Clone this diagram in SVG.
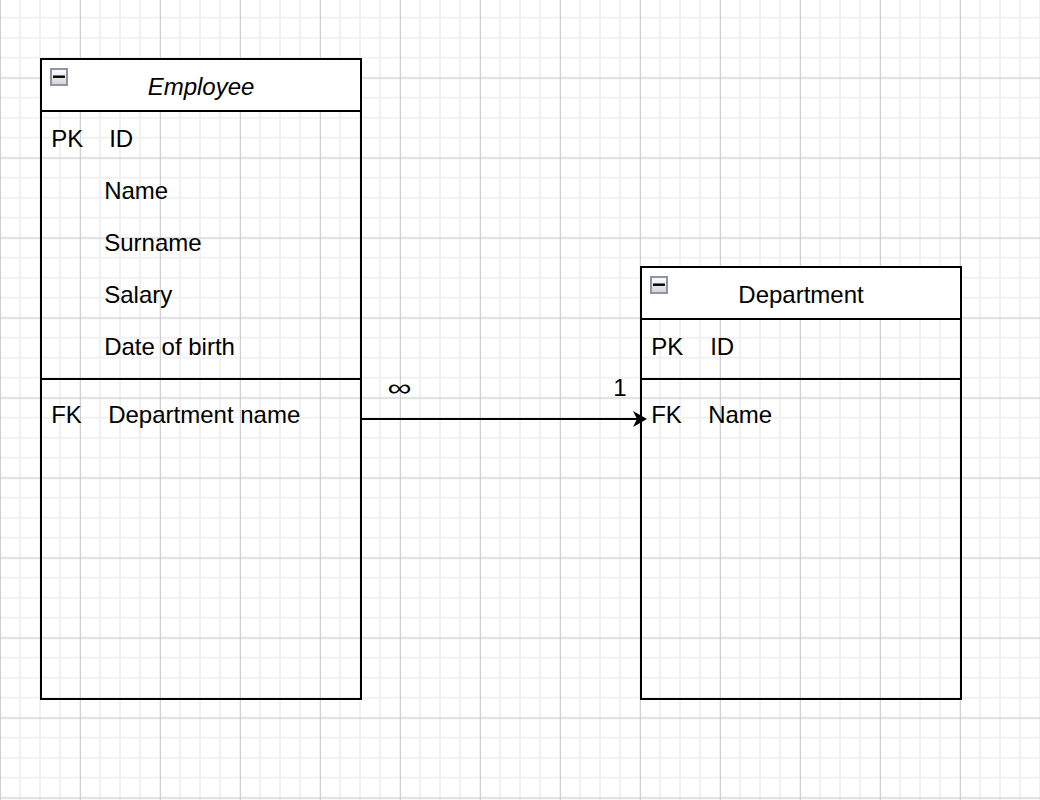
<svg xmlns="http://www.w3.org/2000/svg" width="1040" height="800" viewBox="0 0 1040 800">
  <defs>
    <pattern id="gridMinor" patternUnits="userSpaceOnUse" x="-10" y="-12.3" width="20" height="20">
      <path d="M10 0V20M0 10H20" stroke="#f1f1f1" stroke-width="2" fill="none"/>
    </pattern>
    <pattern id="gridMajor" patternUnits="userSpaceOnUse" x="-40" y="-41.8" width="80" height="80">
      <path d="M40.5 0V80M0 40H80" stroke="#d0d0d0" stroke-width="1" fill="none"/>
    </pattern>
    <linearGradient id="iconGrad" x1="0" y1="0" x2="0" y2="1">
      <stop offset="0" stop-color="#ffffff"/>
      <stop offset="1" stop-color="#d2d3d8"/>
    </linearGradient>
    <marker id="arrow" markerUnits="userSpaceOnUse" viewBox="0 0 14 16" markerWidth="14" markerHeight="16" refX="7" refY="8" orient="auto">
      <path d="M0 0L14 8L0 16L4 8Z" fill="#000"/>
    </marker>
    <g id="collapse">
      <rect x="1" y="1" width="16" height="16" fill="url(#iconGrad)" stroke="#8e95a6" stroke-width="2"/>
      <rect x="3" y="7.5" width="12" height="2.4" fill="#000"/>
    </g>
  </defs>
  <style>
    .box { fill: none; stroke: #000; stroke-width: 2; }
    .head { fill: #fff; stroke: #000; stroke-width: 2; }
    .sep { stroke: #000; stroke-width: 2; fill: none; }
    text { font-family: "Liberation Sans", Helvetica, Arial, sans-serif; font-size: 24px; fill: #000; }
    .title { text-anchor: middle; }
    .edge { stroke: #000; stroke-width: 2; fill: none; }
  </style>

  <rect width="1040" height="800" fill="#fff"/>
  <rect width="1040" height="800" fill="url(#gridMinor)"/>
  <rect width="1040" height="800" fill="url(#gridMajor)"/>

  <g id="employee">
    <rect class="box" x="41" y="59" width="320" height="640"/>
    <rect class="head" x="41" y="59" width="320" height="52"/>
    <use href="#collapse" x="50" y="68"/>
    <text class="title" x="201" y="94.5" font-style="italic">Employee</text>
    <text x="51.2" y="146.5">PK</text>
    <text x="109.2" y="146.5">ID</text>
    <text x="104.2" y="198.5">Name</text>
    <text x="104.2" y="250.5">Surname</text>
    <text x="104.2" y="302.5">Salary</text>
    <text x="104.2" y="354.5">Date of birth</text>
    <line class="sep" x1="41" y1="379" x2="361" y2="379"/>
    <text x="51.2" y="422.5">FK</text>
    <text x="108.2" y="422.5">Department name</text>
  </g>

  <g id="department">
    <rect class="box" x="641" y="267" width="320" height="432"/>
    <rect class="head" x="641" y="267" width="320" height="52"/>
    <use href="#collapse" x="650" y="276"/>
    <text class="title" x="801" y="302.5">Department</text>
    <text x="651.2" y="354.5">PK</text>
    <text x="710.2" y="354.5">ID</text>
    <line class="sep" x1="641" y1="379" x2="961" y2="379"/>
    <text x="651.2" y="422.5">FK</text>
    <text x="708.2" y="422.5">Name</text>
  </g>

  <g id="connectors">
    <line class="edge" x1="361" y1="419" x2="640" y2="419" marker-end="url(#arrow)"/>
    <text x="399.5" y="396" text-anchor="middle" textLength="24" lengthAdjust="spacingAndGlyphs">∞</text>
    <text x="620" y="396" text-anchor="middle">1</text>
  </g>
</svg>
